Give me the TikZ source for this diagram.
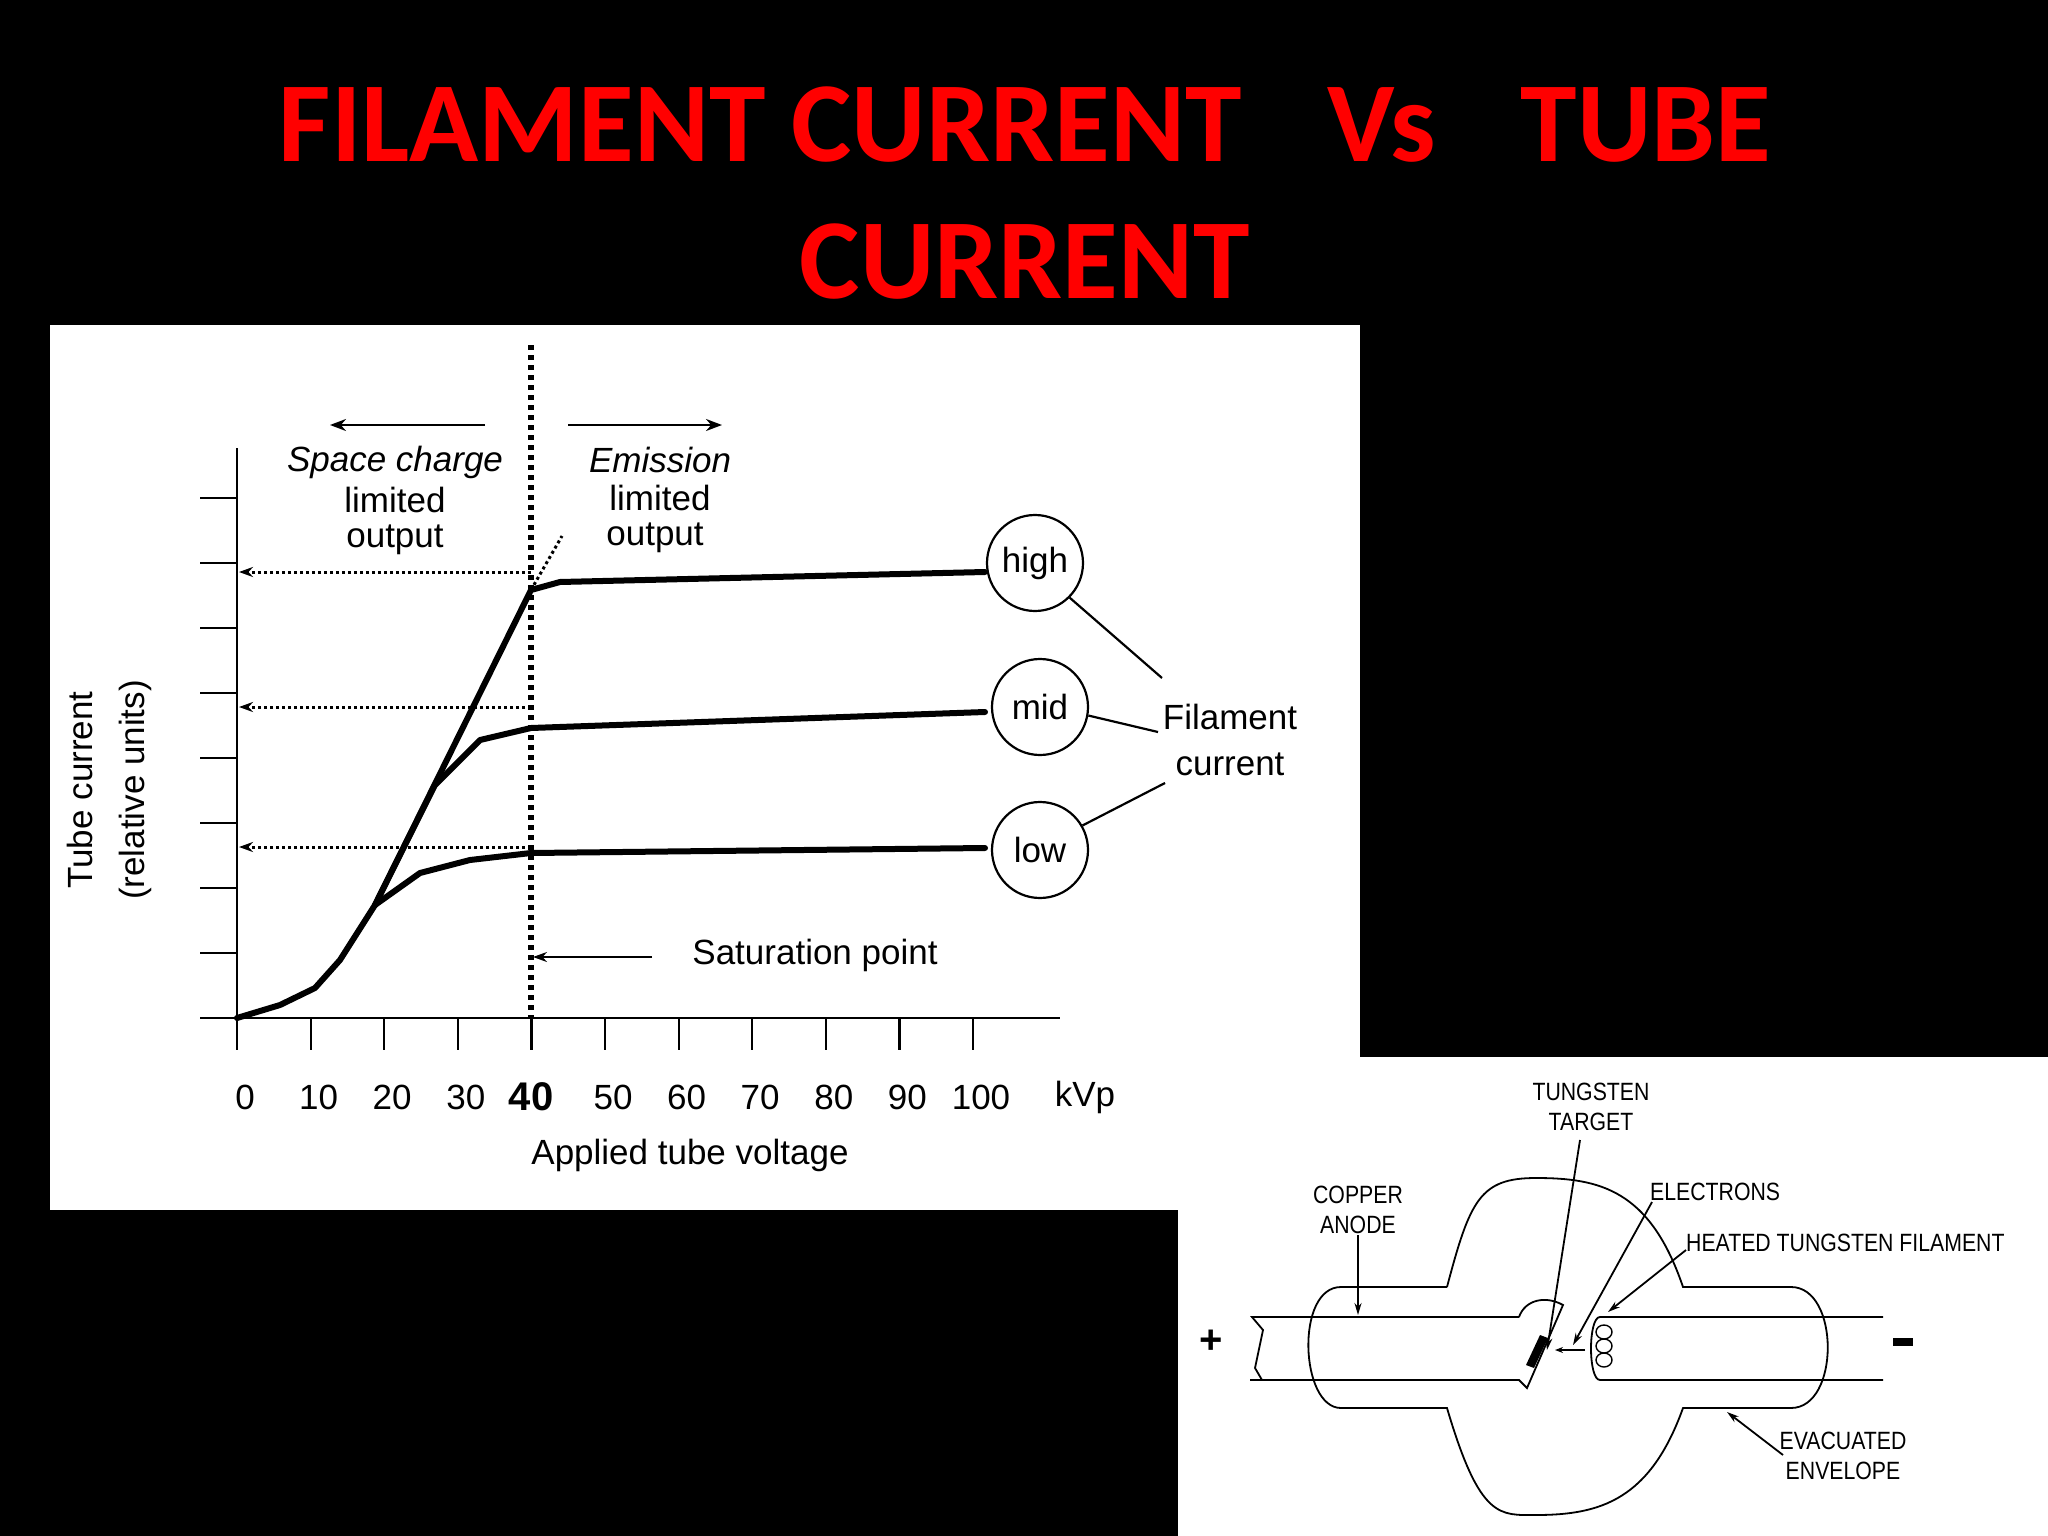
\documentclass[tikz,border=0pt]{standalone}
\usepackage{fontspec}
\setmainfont{Liberation Sans}
\newfontfamily\titlefont{Carlito}
\usetikzlibrary{arrows.meta}
\begin{document}
\begin{tikzpicture}[x=1pt,y=-1pt,
  lbl/.style={font=\fontsize{35}{40}\selectfont,inner sep=0},
  tlbl/.style={font=\fontsize{25}{30}\selectfont,inner sep=0,xscale=0.85,align=center},
  curve/.style={line width=6pt,line join=round,line cap=round},
  dotl/.style={line width=3pt,dash pattern=on 3pt off 3pt},
  circ/.style={circle,draw,line width=2.2pt,minimum size=96pt,inner sep=0,font=\fontsize{35}{40}\selectfont},
  thin/.style={line width=2.2pt},
  tl/.style={line width=1.8pt}]
\useasboundingbox (0,0) rectangle (2048,1536);
\fill[black] (0,0) rectangle (2048,1536);
\fill[white] (50,325) rectangle (1360,1210);
\fill[white] (1178,1057) rectangle (2048,1536);
% title
\node[text=red,font=\titlefont\bfseries\fontsize{114}{120}\selectfont] (t1) at (1025,125) {FILAMENT CURRENT\hspace{0.75em}Vs\hspace{0.75em}TUBE};
\node[text=red,font=\titlefont\bfseries\fontsize{114}{120}\selectfont] (t2) at (1025,262) {CURRENT};
% axes
\draw[thin] (237,448) -- (237,1018) -- (1060,1018);
\foreach \y in {498,563,628,693,758,823,888,953,1018} \draw[thin] (200,\y) -- (237,\y);
\foreach \i in {0,...,10}{
  \draw[thin] (237+73.6*\i,1018) -- (237+73.6*\i,1050);
}
\foreach \i/\l in {0/0,1/10,2/20,3/30,5/50,6/60,7/70,8/80,9/90,10/100}
  \node[lbl] at (245+73.6*\i,1097) {\l};
\node[lbl,font=\bfseries\fontsize{40}{44}\selectfont] at (531,1097) {40};
\node[lbl] at (1085,1097) {kVp};
\node[lbl] (xl) at (690,1155) {Applied tube voltage};
\node[lbl,rotate=90] (yl1) at (80,790) {Tube current};
\node[lbl,rotate=90] (yl2) at (135,790) {(relative units)};
% vertical dotted
\draw[line width=6pt,dash pattern=on 5pt off 5pt] (531,345) -- (531,1018);
% curves
\draw[curve] (237,1018) -- (280,1005) -- (315,988) -- (340,960) -- (375,905) -- (531,590) -- (560,582) -- (985,572);
\draw[curve] (375,905) -- (400,855) -- (435,785) -- (480,740) -- (531,728) -- (985,712);
\draw[curve] (375,905) -- (420,873) -- (470,860) -- (531,853) -- (985,848);
\draw[dotl] (531,590) -- (562,536);
\foreach \y in {572,707,847} \draw[dotl,-{Stealth[length=14pt,width=10pt]}] (531,\y) -- (239,\y);
% circles
\node[circ] (high) at (1035,563) {high};
\node[circ] (mid) at (1040,707) {mid};
\node[circ] (low) at (1040,850) {low};
\node[lbl,align=center] (fc) at (1230,740) {Filament\\[6pt]current};
\draw[thin] (high.-45) -- (1162,678);
\draw[thin] (mid.-10) -- (1158,732);
\draw[thin] (low.30) -- (1165,783);
% region arrows
\draw[thin,-{Stealth[length=16pt,width=12pt]}] (485,425) -- (330,425);
\draw[thin,-{Stealth[length=16pt,width=12pt]}] (568,425) -- (722,425);
\node[lbl,font=\itshape\fontsize{35}{40}\selectfont] at (395,462) {Space charge};
\node[lbl] at (395,500) {limited};
\node[lbl] at (395,540) {output};
\node[lbl,font=\itshape\fontsize{35}{40}\selectfont] at (660,460) {Emission};
\node[lbl] at (660,498) {limited};
\node[lbl] at (655,538) {output};
\node[lbl] (sat) at (815,955) {Saturation point};
\draw[thin,-{Stealth[length=14pt,width=10pt]}] (652,957) -- (533,957);
% ---- tube diagram ----
\draw[tl] (1447,1287) -- (1341,1287) .. controls (1295,1287) and (1300,1408) .. (1341,1408) -- (1447,1408)
  .. controls (1480,1520) and (1500,1515) .. (1536,1515) .. controls (1600,1515) and (1650,1500) .. (1683,1408)
  -- (1791,1408) .. controls (1840,1408) and (1840,1287) .. (1791,1287) -- (1683,1287)
  .. controls (1650,1190) and (1600,1178) .. (1536,1178) .. controls (1480,1178) and (1470,1200) .. (1447,1287);
\draw[tl] (1519,1317) -- (1252,1317) -- (1263,1330) -- (1255,1368) -- (1262,1380) -- (1250,1380) -- (1519,1380) -- (1527,1388) -- (1563,1305) .. controls (1545,1295) and (1525,1300) .. (1519,1317);
\fill[black] (1540,1335) -- (1548,1338) -- (1534,1368) -- (1526,1365) -- cycle;
\draw[tl] (1883,1317) -- (1600,1317) .. controls (1588,1317) and (1588,1380) .. (1600,1380) -- (1883,1380);
\foreach \y in {1332,1346,1360} \draw[line width=1.4pt] (1604,\y) ellipse (8pt and 7pt);
\draw[tl,-{Stealth[length=8pt,width=6pt]}] (1585,1350) -- (1555,1350);
\node[tlbl] (tt) at (1591,1107) {TUNGSTEN\\TARGET};
\draw[tl,-{Stealth[length=12pt,width=7pt]}] (1580,1140) -- (1547,1350);
\node[tlbl] (ca) at (1358,1210) {COPPER\\ANODE};
\draw[tl,-{Stealth[length=12pt,width=7pt]}] (1358,1235) -- (1358,1315);
\node[tlbl,anchor=west] (el) at (1650,1192) {ELECTRONS};
\draw[tl,-{Stealth[length=12pt,width=7pt]}] (1652,1202) -- (1573,1345);
\node[tlbl,anchor=west] (hf) at (1686,1243) {HEATED TUNGSTEN FILAMENT};
\draw[tl,-{Stealth[length=12pt,width=7pt]}] (1686,1250) -- (1608,1312);
\node[tlbl] (ee) at (1843,1456) {EVACUATED\\ENVELOPE};
\draw[tl,-{Stealth[length=12pt,width=7pt]}] (1783,1455) -- (1727,1412);
\node[font=\bfseries\fontsize{40}{40}\selectfont] (plus) at (1211,1342) {+};
\fill[black] (1893,1338) rectangle (1913,1346);
\end{tikzpicture}
\end{document}
